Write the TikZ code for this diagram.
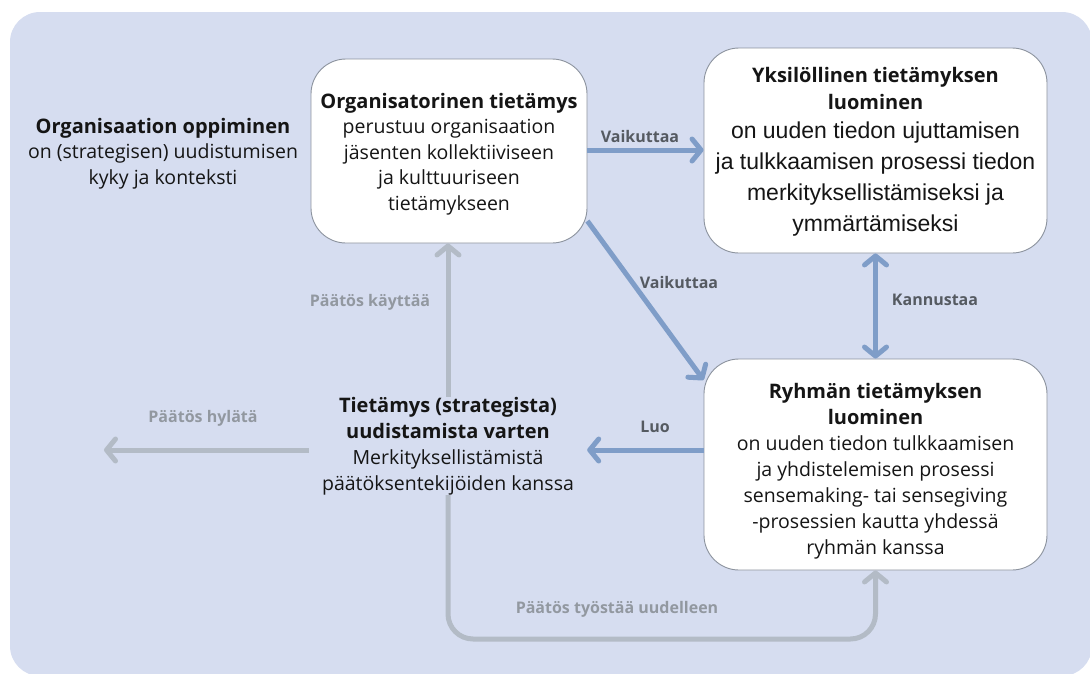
\documentclass[tikz,border=0pt]{standalone}
\usepackage{fontspec}
\setmainfont{Open Sans}
\newfontfamily\arialf{Liberation Sans}
\usetikzlibrary{arrows.meta}
\definecolor{bgc}{HTML}{D6DDF0}
\definecolor{bluec}{HTML}{7F9DC8}
\definecolor{grayc}{HTML}{B3BBC6}
\definecolor{darklab}{HTML}{555A61}
\definecolor{graylab}{HTML}{9298A0}
\definecolor{boxc}{HTML}{8C939E}
\definecolor{txt}{HTML}{151515}
\newcommand{\hd}[1]{{\bfseries\fontsize{20}{26}\selectfont #1}}
\begin{document}
\begin{tikzpicture}[x=1pt,y=-1pt,
  >={Straight Barb[length=9pt,width=22pt,round]},
  box/.style={draw=boxc, line width=0.9pt, fill=white, rounded corners=35pt, inner sep=0pt},
  plain/.style={align=center, inner sep=0pt, text=txt},
  barrow/.style={draw=bluec, line width=5pt},
  garrow/.style={draw=grayc, line width=5pt},
  dlab/.style={text=darklab, font=\bfseries\fontsize{16}{19}\selectfont, inner sep=0pt},
  glab/.style={text=graylab, font=\bfseries\fontsize{16}{19}\selectfont, inner sep=0pt}]
\useasboundingbox (0,0) rectangle (1090,673);
\clip (0,0) rectangle (1090,673);
\fill[bgc, rounded corners=30pt] (10,12) rectangle (1092,676);

% left text
\node[plain, font=\fontsize{19.5}{25.5}\selectfont] (ol) at (163,153.5)
  {\hd{Organisaation oppiminen}\\on (strategisen) uudistumisen\\kyky ja konteksti};

% boxes
\node[box, minimum width=276pt, minimum height=184pt] (org) at (449,151) {};
\node[plain, font=\fontsize{19.5}{25.5}\selectfont] (orgt) at (449,154)
  {\hd{Organisatorinen tietämys}\\perustuu organisaation\\jäsenten kollektiiviseen\\ja kulttuuriseen\\tietämykseen};

\node[box, minimum width=343pt, minimum height=205pt] (yk) at (875.5,150.5) {};
\node[plain, font=\arialf\fontsize{23}{31}\selectfont] (ykt) at (875.5,152)
  {{\rmfamily\hd{Yksilöllinen tietämyksen}}\\[-4pt]
   {\rmfamily\hd{luominen}}\\[-2pt]
   on uuden tiedon ujuttamisen\\ja tulkkaamisen prosessi tiedon\\merkityksellistämiseksi ja\\ymmärtämiseksi};

\node[box, minimum width=343pt, minimum height=211pt] (ry) at (875.5,464.5) {};
\node[plain, font=\fontsize{19.5}{26}\selectfont] (ryt) at (875.5,471)
  {\hd{Ryhmän tietämyksen}\\\hd{luominen}\\on uuden tiedon tulkkaamisen\\ja yhdistelemisen prosessi\\sensemaking- tai sensegiving\\-prosessien kautta yhdessä\\ryhmän kanssa};

\node[plain, minimum width=278pt, font=\fontsize{19.5}{26}\selectfont] (tk) at (448,446)
  {\hd{Tietämys (strategista)}\\\hd{uudistamista varten}\\Merkityksellistämistä\\päätöksentekijöiden kanssa};

\coordinate (hy) at (104,450);
\coordinate (bot) at (0,639);

% blue connectors
\draw[barrow,->] (org.east |- 0,150) -- (yk.west |- 0,150);
\draw[barrow,->] (org.east |- 0,221) -- (ry.west |- 0,380);
\draw[barrow,<->] (yk.south) -- (ry.north);
\draw[barrow,->] (ry.west |- hy) -- (tk.east |- hy);

% gray connectors
\draw[garrow,->] (tk.north) -- (tk.north |- org.south);
\draw[garrow,->] (tk.west |- hy) -- (hy);
\draw[garrow,->,rounded corners=25pt] (tk.south) -- (tk.south |- bot) -- (ry.south |- bot) -- (ry.south);

% labels
\node[dlab] (l1) at (640,136) {Vaikuttaa};
\node[dlab] (l2) at (679,282) {Vaikuttaa};
\node[dlab] (l3) at (935,300) {Kannustaa};
\node[dlab] (l4) at (655,427) {Luo};
\node[glab] (l5) at (370,302) {Päätös käyttää};
\node[glab] (l6) at (203,418) {Päätös hylätä};
\node[glab] (l7) at (617,609) {Päätös työstää uudelleen};
\end{tikzpicture}
\end{document}
